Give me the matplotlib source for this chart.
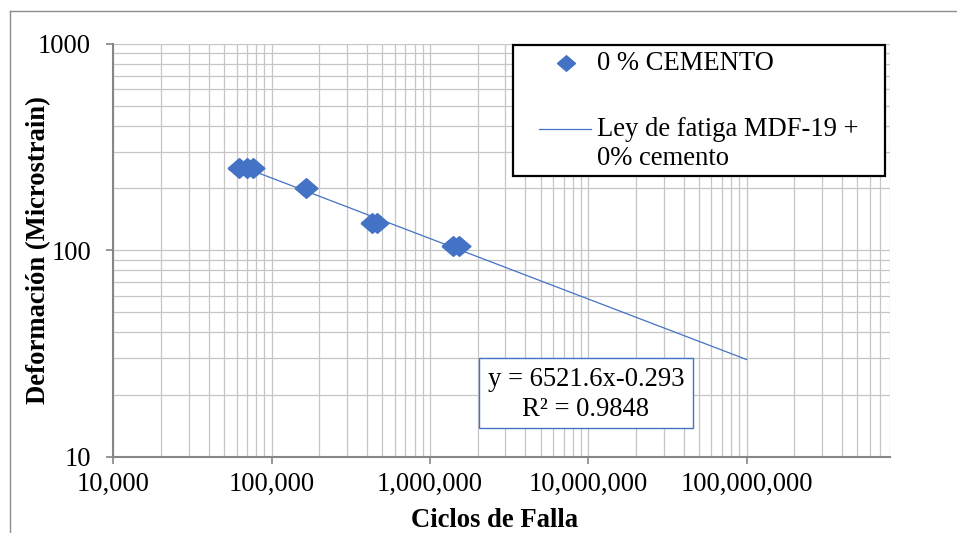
import numpy as np
import matplotlib
matplotlib.use("Agg")
import matplotlib.pyplot as plt
from matplotlib.lines import Line2D
from matplotlib.patches import Rectangle
from matplotlib.ticker import FuncFormatter, LogLocator, NullFormatter

plt.rcParams["font.family"] = ["Liberation Serif", "DejaVu Serif"]

# ensayos de fatiga, 0 % cemento
ciclos = [62000, 69500, 76000, 165000, 428000, 461000, 1400000, 1520000]
deformacion = [250, 250, 250, 200, 135, 135, 105, 105]

# ley de fatiga (ajuste potencial)
coef_a = 6521.6
coef_b = -0.293
r2 = 0.9848
x_fin = 1e8

azul = "#4472C4"
fs = 19.2
rombo = [(-0.5, 0), (0, 0.43), (0.5, 0), (0, -0.43), (-0.5, 0)]

fig = plt.figure(figsize=(9.57, 5.33), dpi=100)
ax = fig.add_axes([0.1184, 0.1432, 0.8116, 0.7749])

ax.set_xscale("log")
ax.set_yscale("log")
ax.set_xlim(1e4, 8.05e8)
ax.set_ylim(10, 1000)

# trendline from the fitted law
xs = np.array([min(ciclos), x_fin])
ax.plot(xs, coef_a * xs ** coef_b, color=azul, lw=0.9, zorder=3)
ax.plot(ciclos, deformacion, linestyle="none", marker=rombo, markersize=16.5,
        color=azul, zorder=4)

# grid and axes
ax.xaxis.set_major_locator(LogLocator(base=10, numticks=20))
ax.xaxis.set_minor_locator(LogLocator(base=10, subs=np.arange(2, 10), numticks=20))
ax.yaxis.set_major_locator(LogLocator(base=10, numticks=20))
ax.yaxis.set_minor_locator(LogLocator(base=10, subs=np.arange(2, 10), numticks=20))
ax.xaxis.set_major_formatter(FuncFormatter(lambda v, p: f"{int(round(v)):,}"))
ax.yaxis.set_major_formatter(FuncFormatter(lambda v, p: f"{int(round(v))}"))
ax.xaxis.set_minor_formatter(NullFormatter())
ax.yaxis.set_minor_formatter(NullFormatter())
ax.grid(True, which="both", color="#c6c6c6", lw=0.9, zorder=0)
ax.set_axisbelow(True)

for s in ["top", "right"]:
    ax.spines[s].set_visible(False)
for s in ["left", "bottom"]:
    ax.spines[s].set_color("#868686")
    ax.spines[s].set_linewidth(1.5)

ax.tick_params(axis="both", which="major", length=5, width=1.2, color="#868686",
               labelsize=fs, labelcolor="black")
ax.tick_params(axis="x", which="major", pad=6)
ax.tick_params(axis="y", which="major", pad=11)
ax.tick_params(axis="both", which="minor", length=0)

ax.set_xlabel("Ciclos de Falla", fontsize=fs, fontweight="bold")
ax.set_ylabel("Deformación (Microstrain)", fontsize=fs, fontweight="bold")
ax.xaxis.set_label_coords(0.491, -0.125)
ax.yaxis.set_label_coords(-0.080, 0.5)

# legend box
ax.add_patch(Rectangle((0.5146, 0.6797), 0.479, 0.3173, transform=ax.transAxes,
                       facecolor="white", edgecolor="black", lw=1.6,
                       zorder=6, clip_on=False))
ax.plot([0.583], [0.953], transform=ax.transAxes, linestyle="none", marker=rombo,
        markersize=13, color=azul, zorder=7, clip_on=False)
ax.plot([0.548, 0.615], [0.7935, 0.7935], transform=ax.transAxes, color=azul,
        lw=0.9, zorder=7, clip_on=False)
ax.text(0.6228, 0.953, "0 % CEMENTO", transform=ax.transAxes, fontsize=fs,
        va="center", ha="left", zorder=8)
ax.text(0.6228, 0.791, "Ley de fatiga MDF-19 +", transform=ax.transAxes,
        fontsize=fs, va="center", ha="left", zorder=8)
ax.text(0.6228, 0.723, "0% cemento", transform=ax.transAxes, fontsize=fs,
        va="center", ha="left", zorder=8)

# equation label
ax.add_patch(Rectangle((0.4708, 0.0702), 0.2752, 0.1681, transform=ax.transAxes,
                       facecolor="white", edgecolor=azul, lw=1.0, zorder=6))
ax.text(0.6085, 0.1874, f"y = {coef_a}x{coef_b}", transform=ax.transAxes,
        fontsize=fs, ha="center", va="center", zorder=8)
ax.text(0.6085, 0.1148, f"R² = {r2}", transform=ax.transAxes,
        fontsize=fs, ha="center", va="center", zorder=8)

# chart area border (top and left edges)
fig.add_artist(Line2D([0.01045, 1.0], [0.9794, 0.9794], color="#8c8c8c", lw=1.0))
fig.add_artist(Line2D([0.01045, 0.01045], [0.0, 0.9794], color="#8c8c8c", lw=1.0))

fig.savefig("out.png", dpi=100)
